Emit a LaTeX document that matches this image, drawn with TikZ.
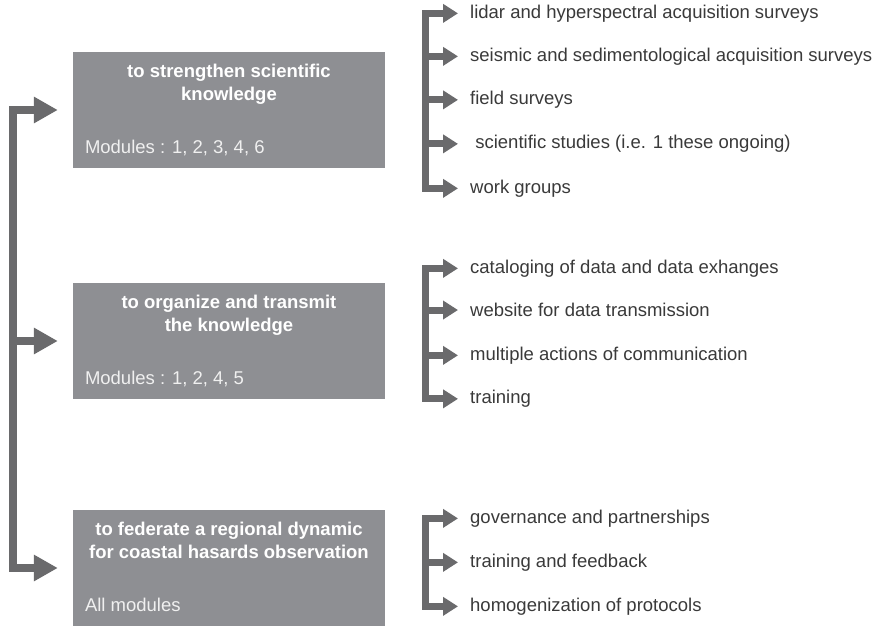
\documentclass[tikz,border=0pt]{standalone}
\usepackage{fontspec}
\setmainfont{Liberation Sans}
\usetikzlibrary{arrows.meta,calc}
\definecolor{boxgray}{HTML}{8E8F93}
\definecolor{arrgray}{HTML}{6A6A6C}
\definecolor{itemtext}{HTML}{3A3A3A}
\definecolor{modtext}{HTML}{F0F0F0}
\begin{document}
\begin{tikzpicture}[x=1pt,y=-1pt,
  goalbox/.style={fill=boxgray, draw=none, minimum width=312pt, minimum height=116pt, inner sep=0pt},
  goaltitle/.style={anchor=north, inner sep=0pt, align=center, text=white,
     font=\fontsize{18.5}{23}\selectfont\bfseries},
  modtxt/.style={anchor=base west, inner sep=0pt, text=modtext, font=\fontsize{18.5}{22}\selectfont},
  item/.style={anchor=mid west, inner sep=0pt, text=itemtext, font=\fontsize{18.5}{22}\selectfont},
  larr/.style={draw=arrgray, line width=8pt, -{Triangle[length=24pt,width=25pt]}, shorten >=15pt},
  rarr/.style={draw=arrgray, line width=7pt, -{Triangle[length=15pt,width=18pt]}, shorten >=12pt}
]
\useasboundingbox (0,0) rectangle (876,626);
\fill[white] (0,0) rectangle (876,626);

% goal boxes
\node[goalbox] (b1) at (229,110) {};
\node[goalbox] (b2) at (229,341) {};
\node[goalbox] (b3) at (229,568) {};

\node[goaltitle] (t1) at ([yshift=-12pt]b1.north) {to strengthen scientific\\knowledge};
\node[goaltitle] (t2) at ([yshift=-12pt]b2.north) {to organize and transmit\\the knowledge};
\node[goaltitle] (t3) at ([yshift=-12pt]b3.north) {to federate a regional dynamic\\for coastal hasards observation};

\node[modtxt] (m1) at ([xshift=12pt,yshift=15pt]b1.south west) {Modules : 1, 2, 3, 4, 6};
\node[modtxt] (m2) at ([xshift=12pt,yshift=15pt]b2.south west) {Modules : 1, 2, 4, 5};
\node[modtxt] (m3) at ([xshift=12pt,yshift=15pt]b3.south west) {All modules};

% left spine
\coordinate (Ltop) at (12.5,110);
\coordinate (Lbot) at (12.5,568);
\draw[larr] (Lbot) |- (b1.west);
\draw[larr] (Ltop) |- (b3.west);
\draw[larr] (Lbot |- b2.west) -- (b2.west);

% group 1 items
\node[item] (a1) at (470,15.5) {lidar and hyperspectral acquisition surveys};
\node[item] (a2) at (470,58.5) {seismic and sedimentological acquisition surveys};
\node[item] (a3) at (470,102) {field surveys};
\node[item] (a4) at (470,146) {\ scientific studies (i.e. 1 these ongoing)};
\node[item] (a5) at (470,190.5) {work groups};
\coordinate (Ra) at (425,0);
\draw[rarr] (Ra |- a5.west) |- (a1.west);
\draw[rarr] (Ra |- a1.west) |- (a5.west);
\draw[rarr] (Ra |- a2.west) -- (a2.west);
\draw[rarr] (Ra |- a3.west) -- (a3.west);
\draw[rarr] (Ra |- a4.west) -- (a4.west);

% group 2 items
\node[item] (c1) at (470,270.5) {cataloging of data and data exhanges};
\node[item] (c2) at (470,314) {website for data transmission};
\node[item] (c3) at (470,357.5) {multiple actions of communication};
\node[item] (c4) at (470,401) {training};
\draw[rarr] (Ra |- c4.west) |- (c1.west);
\draw[rarr] (Ra |- c1.west) |- (c4.west);
\draw[rarr] (Ra |- c2.west) -- (c2.west);
\draw[rarr] (Ra |- c3.west) -- (c3.west);

% group 3 items
\node[item] (d1) at (470,520.5) {governance and partnerships};
\node[item] (d2) at (470,564.5) {training and feedback};
\node[item] (d3) at (470,608.5) {homogenization of protocols};
\draw[rarr] (Ra |- d3.west) |- (d1.west);
\draw[rarr] (Ra |- d1.west) |- (d3.west);
\draw[rarr] (Ra |- d2.west) -- (d2.west);
\end{tikzpicture}
\end{document}
